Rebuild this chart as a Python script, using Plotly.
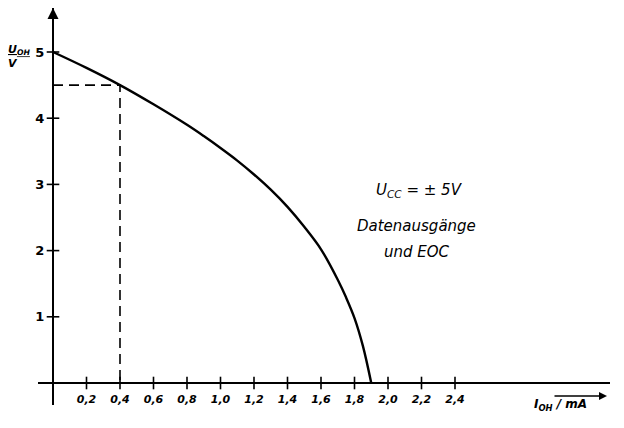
import plotly.graph_objects as go

# Output characteristic U_OH vs I_OH
i_oh = [0.0, 0.2, 0.4, 0.6, 0.8, 0.9, 1.0, 1.1, 1.2, 1.3, 1.4, 1.5, 1.6, 1.7, 1.75, 1.8, 1.85, 1.9]
u_oh = [5.0, 4.76, 4.5, 4.21, 3.9, 3.73, 3.55, 3.36, 3.15, 2.92, 2.66, 2.36, 2.02, 1.56, 1.29, 0.98, 0.56, 0.0]

x_ticks = [0.2, 0.4, 0.6, 0.8, 1.0, 1.2, 1.4, 1.6, 1.8, 2.0, 2.2, 2.4]
x_tick_text = ["0,2", "0,4", "0,6", "0,8", "1,0", "1,2", "1,4", "1,6", "1,8", "2,0", "2,2", "2,4"]
y_ticks = [1, 2, 3, 4, 5]
y_tick_text = ["1", "2", "3", "4", "5"]

marker_i = [0.4]
marker_u = [4.5]

OFF = 8  # page body margin
W, H = 624 - OFF, 428 - OFF
FONT = "DejaVu Sans"


def px(v):
    return v - OFF


fig = go.Figure()

# dashed guide lines
fig.add_trace(go.Scatter(x=[0, marker_i[0], marker_i[0]], y=[marker_u[0], marker_u[0], 0],
                         mode="lines", line=dict(color="black", width=1.6, dash="10px,6px"),
                         hoverinfo="skip", showlegend=False))
# main curve
fig.add_trace(go.Scatter(x=i_oh, y=u_oh, mode="lines",
                         line=dict(color="black", width=2.4, shape="spline", smoothing=1.0),
                         showlegend=False))
# crossing tick marks
fig.add_trace(go.Scatter(x=x_ticks, y=[0] * len(x_ticks), mode="markers",
                         marker=dict(symbol="line-ns", size=9, line=dict(width=1.6, color="black")),
                         cliponaxis=False, hoverinfo="skip", showlegend=False))
fig.add_trace(go.Scatter(x=[0] * len(y_ticks), y=y_ticks, mode="markers",
                         marker=dict(symbol="line-ew", size=9, line=dict(width=1.6, color="black")),
                         cliponaxis=False, hoverinfo="skip", showlegend=False))

x0px, y0px = px(53), px(383)
xs, ys = 167.5, 66.2
xl_px, xr_px = px(38), px(610)
yt_px, yb_px = px(8), px(405)

fig.update_layout(
    width=W, height=H,
    margin=dict(l=0, r=0, t=0, b=0),
    paper_bgcolor="white", plot_bgcolor="white",
    font=dict(family=FONT, color="black"),
    xaxis=dict(
        domain=[xl_px / W, xr_px / W],
        range=[(xl_px - x0px) / xs, (xr_px - x0px) / xs],
        anchor="free", position=1 - y0px / H,
        showgrid=False, zeroline=False, showline=True, linecolor="black", linewidth=2,
        tickmode="array", tickvals=x_ticks, ticktext=x_tick_text, ticks="",
        ticklabelstandoff=6,
        tickfont=dict(size=11, family=FONT, style="italic", weight="bold"),
        automargin=False, fixedrange=True,
    ),
    yaxis=dict(
        domain=[1 - yb_px / H, 1 - yt_px / H],
        range=[(y0px - yb_px) / ys, (y0px - yt_px) / ys],
        anchor="free", position=x0px / W,
        showgrid=False, zeroline=False, showline=True, linecolor="black", linewidth=2,
        tickmode="array", tickvals=y_ticks, ticktext=y_tick_text, ticks="",
        ticklabelstandoff=5,
        tickfont=dict(size=13, family=FONT, weight="bold"),
        automargin=False, fixedrange=True,
    ),
)

ann = []
# y-axis arrow
ann.append(dict(x=0, y=(y0px - yt_px) / ys, xref="x", yref="y", ax=0, ay=20,
                showarrow=True, arrowhead=2, arrowsize=1.1, arrowwidth=2, arrowcolor="black", text=""))
# y label
ann.append(dict(x=px(19) / W, y=1 - px(41) / H, xref="paper", yref="paper", showarrow=False,
                text="<u>U<sub>OH</sub></u><br>V", align="left", xanchor="center",
                font=dict(size=11, family=FONT, style="italic", weight="bold")))
# x label arrow
ann.append(dict(x=px(607) / W, y=1 - px(396) / H, xref="paper", yref="paper", ax=-54, ay=0,
                showarrow=True, arrowhead=2, arrowsize=1, arrowwidth=1.6, arrowcolor="black", text=""))
ann.append(dict(x=px(589) / W, y=1 - px(415) / H, xref="paper", yref="paper", showarrow=False,
                text="I<sub>OH</sub> / mA",
                font=dict(size=12, family=FONT, style="italic", weight="bold")))
# parameter text
ann.append(dict(x=px(465) / W, y=1 - px(190) / H, xref="paper", yref="paper", showarrow=False,
                text="U<sub>CC</sub> = ± 5V", font=dict(size=15, family=FONT, style="italic")))
ann.append(dict(x=px(478) / W, y=1 - px(226) / H, xref="paper", yref="paper", showarrow=False,
                text="Datenausgänge", font=dict(size=15, family=FONT, style="italic")))
ann.append(dict(x=px(452) / W, y=1 - px(252) / H, xref="paper", yref="paper", showarrow=False,
                text="und EOC", font=dict(size=15, family=FONT, style="italic")))
fig.update_layout(annotations=ann)

fig.write_html("out.html")
